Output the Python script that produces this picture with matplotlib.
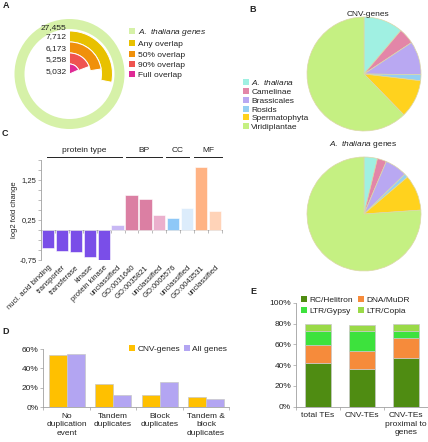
import matplotlib
matplotlib.use('Agg')
import matplotlib.pyplot as plt
import numpy as np
from matplotlib.patches import Patch

plt.rcParams['font.family'] = ['Liberation Sans', 'DejaVu Sans']
plt.rcParams['mathtext.fontset'] = 'custom'
plt.rcParams['mathtext.it'] = 'Liberation Sans:italic'
plt.rcParams['mathtext.rm'] = 'Liberation Sans'
plt.rcParams['font.size'] = 5.5
TXT = '#222222'
GRID = '#a0a0a0'

# ---------------- data ----------------
# A
overlap_labels = ['A. thaliana genes', 'Any overlap', '50% overlap', '90% overlap', 'Full overlap']
overlap_counts = [27455, 7712, 6173, 5258, 5032]
# B
taxa = ['A. thaliana', 'Camelinae', 'Brassicales', 'Rosids', 'Spermatophyta', 'Viridiplantae']
cnv_gene_share = [11.2, 4.5, 9.5, 1.7, 10.8, 62.3]
all_gene_share = [3.8, 2.6, 6.3, 1.1, 10.1, 76.1]
# C
term_labels = ['nucl. acid binding', 'transporter', 'transferase', 'kinase', 'protein kinase',
               'unclassified', 'GO:0031640', 'GO:0035821', 'unclassified', 'GO:0005576',
               'unclassified', 'GO:0043531', 'unclassified']
log2fc = [-0.45, -0.52, -0.56, -0.68, -0.75, 0.12, 0.87, 0.78, 0.37, 0.29, 0.55, 1.57, 0.48]
group_names = ['protein type', 'BP', 'CC', 'MF']
# D
dup_categories = ['No\nduplication\nevent', 'Tandem\nduplicates', 'Block\nduplicates',
                  'Tandem &\nblock\nduplicates']
dup_cnv = [53.5, 24.0, 12.4, 10.3]
dup_all = [54.5, 12.7, 25.5, 8.0]
# E
te_sets = ['total TEs', 'CNV-TEs', 'CNV-TEs\nproximal to\ngenes']
te_families = ['RC/Helitron', 'DNA/MuDR', 'LTR/Gypsy', 'LTR/Copia']
te_helitron = [41.7, 36.2, 46.5]
te_mudr = [17.6, 17.6, 19.8]
te_gypsy = [13.7, 19.2, 6.7]
te_copia = [6.2, 6.0, 7.0]

# ---------------- layout helpers ----------------
W, H = 428, 442
fig = plt.figure(figsize=(W / 100, H / 100), dpi=100, facecolor='white')


def rect(l, t, w, h):
    return [l / W, 1 - (t + h) / H, w / W, h / H]


def fp(x, y):
    return (x / W, 1 - y / H)


def Y(y):
    return H - y


ov = fig.add_axes([0, 0, 1, 1])
ov.set_facecolor('none')

# ---------------- Panel A ----------------
ring_colors = ['#d6f1a8', '#e8c100', '#f0900a', '#ef5350', '#df2a95']
cA = (69.5, Y(74))
total = overlap_counts[0]
ov.pie([total], radius=55, center=cA, colors=[ring_colors[0]],
       wedgeprops=dict(width=10, edgecolor='none'))
radii = [43, 32, 21, 10]
widths = [11, 11, 11, None]
for val, r, wd, col in zip(overlap_counts[1:], radii, widths, ring_colors[1:]):
    wp = dict(edgecolor='white', linewidth=0.7)
    if wd is not None:
        wp['width'] = wd
    wedges, _ = ov.pie([val, total - val], radius=r, center=cA, startangle=90,
                       counterclock=False, colors=[col, 'white'], wedgeprops=wp)
    wedges[1].set_visible(False)

label_y = [27.3, 36.7, 48.3, 60, 71.7]
for v, ly in zip(overlap_counts, label_y):
    ov.text(66.5, Y(ly), f"{v:,}", ha='right', va='center', fontsize=6, color=TXT)

legA = ov.legend([Patch(facecolor=c, edgecolor='none') for c in ring_colors],
                 [r'$\mathit{A.\ thaliana\ genes}$'] + overlap_labels[1:],
                 loc='upper left', bbox_to_anchor=fp(129, 27), bbox_transform=fig.transFigure,
                 frameon=False, fontsize=6, handlelength=0.7, handleheight=0.7,
                 handletextpad=0.4, labelspacing=0.3, borderpad=0, borderaxespad=0)
for t in legA.get_texts():
    t.set_color(TXT)
ov.add_artist(legA)

# ---------------- Panel B ----------------
taxa_colors = ['#a0f0e2', '#e386a8', '#b9a8f2', '#95cff2', '#ffd21e', '#c5f082']
pie_edge = dict(edgecolor='#dcd7a8', linewidth=0.5)
ov.pie(cnv_gene_share, radius=57, center=(364, Y(74)), startangle=90,
       counterclock=False, colors=taxa_colors, wedgeprops=pie_edge)
ov.pie(all_gene_share, radius=57, center=(364, Y(214)), startangle=90,
       counterclock=False, colors=taxa_colors, wedgeprops=pie_edge)
ov.text(368, Y(15), 'CNV-genes', ha='center', va='center', fontsize=6, color=TXT)
ov.text(363, Y(144), r'$\mathit{A.\ thaliana}$ genes', ha='center', va='center',
        fontsize=6, color=TXT)
legB = ov.legend([Patch(facecolor=c, edgecolor='none') for c in taxa_colors],
                 [r'$\mathit{A.\ thaliana}$'] + taxa[1:],
                 loc='upper left', bbox_to_anchor=fp(243, 78), bbox_transform=fig.transFigure,
                 frameon=False, fontsize=6, handlelength=0.7, handleheight=0.7,
                 handletextpad=0.3, labelspacing=0.12, borderpad=0, borderaxespad=0)
for t in legB.get_texts():
    t.set_color(TXT)

# panel letters
for lt, (lx, ly) in zip('ABCDE', [(6, 6), (253, 9), (5, 134), (6, 332), (253, 292)]):
    ov.text(lx, Y(ly), lt, ha='center', va='center', fontsize=6.5, fontweight='bold', color=TXT)

ov.set_xlim(0, W)
ov.set_ylim(0, H)
ov.set_aspect('auto')
ov.axis('off')

# ---------------- Panel C ----------------
c_colors = ['#7a4ee8'] * 5 + ['#c8b8f4'] + ['#db7fa3'] * 2 + ['#ebb0cd'] + \
           ['#8ec8f7', '#dcecfb', '#ffb384', '#ffd3b8']
axC = fig.add_axes(rect(41, 160, 181, 100))
axC.set_facecolor('none')
xc = np.arange(len(log2fc))
axC.bar(xc, log2fc, width=0.88, color=c_colors, edgecolor='white', linewidth=0.4)
axC.set_xlim(-0.5, len(log2fc) - 0.5)
axC.set_ylim(-0.75, 1.75)
for s in ['top', 'right', 'bottom']:
    axC.spines[s].set_visible(False)
axC.spines['left'].set_color(GRID)
axC.spines['left'].set_linewidth(0.6)
axC.set_yticks([-0.75, 0.25, 1.25])
axC.set_yticklabels(['-0,75', '0,25', '1,25'])
axC.set_yticks(np.arange(-0.75, 1.76, 0.25), minor=True)
axC.tick_params(axis='y', which='both', length=2, width=0.5, color=GRID,
                labelsize=5.5, labelcolor=TXT, pad=1.2)
axC.set_xticks(xc)
axC.set_xticklabels(term_labels, rotation=45, ha='right', rotation_mode='anchor')
axC.tick_params(axis='x', length=0, pad=3, labelsize=5.5, labelcolor=TXT)
axC.set_ylabel('log2 fold change', fontsize=5.5, color=TXT)
axC.yaxis.set_label_coords(-23.5 / 181, 0.5)
sec = axC.secondary_xaxis(0.75 / 2.5)
sec.set_xticks(np.arange(-0.5, len(log2fc), 1))
sec.set_xticklabels([])
sec.tick_params(length=2, width=0.5, color=GRID)
for s in sec.spines.values():
    s.set_color(GRID)
    s.set_linewidth(0.6)
group_spans = [(-0.08, 5.3), (5.58, 8.16), (8.45, 10.12), (10.5, 12.5)]
for name, (g0, g1) in zip(group_names, group_spans):
    axC.plot([g0, g1], [1.82, 1.82], color=TXT, lw=0.7, clip_on=False)
    axC.text((g0 + g1) / 2, 2.0, name, ha='center', va='center', fontsize=6, color=TXT,
             clip_on=False)

# ---------------- Panel D ----------------
axD = fig.add_axes(rect(43.3, 349, 186, 58))
axD.set_facecolor('none')
xd = np.arange(len(dup_categories))
bw = 0.387
axD.bar(xd - bw / 2, dup_cnv, bw, color='#ffc000', edgecolor='#c8c8c8', linewidth=0.5,
        label='CNV-genes')
axD.bar(xd + bw / 2, dup_all, bw, color='#b3a5f2', edgecolor='#c8c8c8', linewidth=0.5,
        label='All genes')
axD.set_xlim(-0.5, len(dup_categories) - 0.5)
axD.set_ylim(0, 60)
for s in ['top', 'right']:
    axD.spines[s].set_visible(False)
for s in ['left', 'bottom']:
    axD.spines[s].set_color(GRID)
    axD.spines[s].set_linewidth(0.6)
axD.set_yticks([0, 20, 40, 60])
axD.set_yticklabels([f'{v}%' for v in [0, 20, 40, 60]])
axD.tick_params(axis='y', length=2, width=0.5, color=GRID, labelsize=6, labelcolor=TXT, pad=1.5)
axD.set_xticks(xd)
axD.set_xticklabels(dup_categories, linespacing=1.3)
axD.set_xticks(np.arange(-0.5, len(dup_categories), 1), minor=True)
axD.tick_params(axis='x', which='major', length=0, pad=4, labelsize=6, labelcolor=TXT)
axD.tick_params(axis='x', which='minor', length=2, width=0.5, color=GRID)
legD = axD.legend(loc='center left', bbox_to_anchor=fp(129, 349), bbox_transform=fig.transFigure,
                  ncol=2, frameon=False, fontsize=6, handlelength=0.7, handleheight=0.7,
                  handletextpad=0.3, columnspacing=0.5, borderpad=0, borderaxespad=0)
for t in legD.get_texts():
    t.set_color(TXT)
for h in legD.legend_handles:
    h.set_edgecolor('none')

# ---------------- Panel E ----------------
te_colors = ['#4f8c12', '#f68b3b', '#3de23d', '#9ada47']
axE = fig.add_axes(rect(296, 302.7, 132, 104))
axE.set_facecolor('none')
xe = np.arange(len(te_sets))
bottom = np.zeros(len(te_sets))
for fam, vals, col in zip(te_families, [te_helitron, te_mudr, te_gypsy, te_copia], te_colors):
    axE.bar(xe, vals, 0.57, bottom=bottom, color=col, edgecolor='#c8c8c8', linewidth=0.5,
            label=fam)
    bottom = bottom + np.array(vals)
axE.set_xlim(-0.5, len(te_sets) - 0.5)
axE.set_ylim(0, 100)
for s in ['top', 'right']:
    axE.spines[s].set_visible(False)
for s in ['left', 'bottom']:
    axE.spines[s].set_color(GRID)
    axE.spines[s].set_linewidth(0.6)
axE.set_yticks(np.arange(0, 101, 20))
axE.set_yticklabels([f'{v}%' for v in range(0, 101, 20)])
axE.tick_params(axis='y', length=2, width=0.5, color=GRID, labelsize=6, labelcolor=TXT, pad=1.5)
axE.set_xticks(xe)
axE.set_xticklabels(te_sets, linespacing=1.3)
axE.set_xticks(np.arange(-0.5, len(te_sets), 1), minor=True)
axE.tick_params(axis='x', which='major', length=0, pad=4, labelsize=6, labelcolor=TXT)
axE.tick_params(axis='x', which='minor', length=2, width=0.5, color=GRID)
order = ['RC/Helitron', 'LTR/Gypsy', 'DNA/MuDR', 'LTR/Copia']
legE = axE.legend([Patch(facecolor=te_colors[te_families.index(f)], edgecolor='none') for f in order],
                  order, loc='upper left', bbox_to_anchor=fp(301, 296),
                  bbox_transform=fig.transFigure, ncol=2, frameon=False, fontsize=6,
                  handlelength=0.7, handleheight=0.7, handletextpad=0.3, columnspacing=0.6,
                  labelspacing=0.35, borderpad=0, borderaxespad=0)
for t in legE.get_texts():
    t.set_color(TXT)

fig.savefig('out.png', dpi=100, facecolor='white')
